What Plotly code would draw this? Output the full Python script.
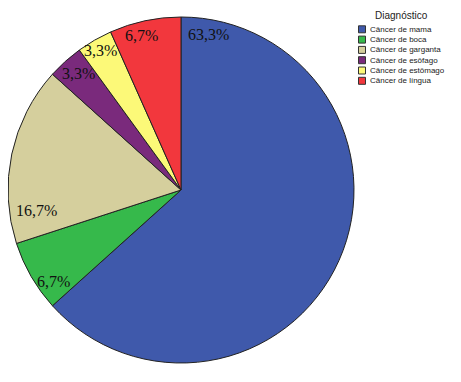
import math
import plotly.graph_objects as go

W, H = 461, 382
OFF = 8  # page body margin offset in the screenshot

categories = ["Câncer de mama", "Câncer de boca", "Câncer de garganta",
              "Câncer de esôfago", "Câncer de estômago", "Câncer de língua"]
counts = [19, 2, 5, 1, 1, 2]
colors = ["#3F59AB", "#36B94B", "#D5CF9D", "#7A2A7C", "#FCF978", "#F2373D"]
legend_title = "Diagnóstico"

# label placement style: fraction along slice and fraction of radius
label_angle_frac = [0.044, 0.26, 0.163, 0.55, 0.5, 0.40]
label_radius_frac = [0.90, 0.893, 0.828, 0.879, 0.918, 0.909]

# pie geometry in page pixels
cx, cy = 181, 190
R_draw = cx - OFF   # largest radius that fits from the figure's left edge
R_lab = 176


def px2x(px):
    return (px - OFF) / W


def py2y(py):
    return 1 - (py - OFF) / H


fig = go.Figure(go.Pie(
    labels=categories, values=counts, sort=False, direction="clockwise",
    rotation=0, marker=dict(colors=colors, line=dict(color="#222222", width=1)),
    textinfo="none", hoverinfo="label+percent", showlegend=False,
    domain=dict(x=[max(0, px2x(cx - R_draw)), px2x(cx + R_draw)],
                y=[py2y(cy + R_draw), py2y(cy - R_draw)]),
))

total = sum(counts)
ann = []
start = 0.0
for i, v in enumerate(counts):
    span = 360.0 * v / total
    th = math.radians(start + label_angle_frac[i] * span)
    r = R_lab * label_radius_frac[i]
    px = cx + r * math.sin(th)
    py = cy - r * math.cos(th)
    pct = f"{100 * v / total:.1f}".replace(".", ",") + "%"
    ann.append(dict(x=px2x(px), y=py2y(py), xref="paper", yref="paper", text=pct,
                    showarrow=False, xanchor="center", yanchor="middle",
                    font=dict(family="Liberation Serif, Times New Roman, serif", size=16, color="#111111")))
    start += span

# manual legend
shapes = []
ann.append(dict(x=px2x(401), y=py2y(15), xref="paper", yref="paper", text=legend_title,
                showarrow=False, xanchor="center", yanchor="middle",
                font=dict(family="Liberation Sans, Arial, sans-serif", size=10, color="#222222")))
y0 = 29.3
step = 10.3
for i, c in enumerate(categories):
    yc = y0 + i * step
    shapes.append(dict(type="rect", xref="paper", yref="paper",
                       x0=px2x(358.5), x1=px2x(365.5), y0=py2y(yc + 3.5), y1=py2y(yc - 3.5),
                       fillcolor=colors[i], line=dict(color="#333333", width=1)))
    ann.append(dict(x=px2x(367.5), y=py2y(yc), xref="paper", yref="paper", text=c,
                    showarrow=False, xanchor="left", yanchor="middle",
                    font=dict(family="Liberation Sans, Arial, sans-serif", size=8, color="#222222")))

fig.update_layout(width=W, height=H, margin=dict(l=0, r=0, t=0, b=0),
                  paper_bgcolor="white", plot_bgcolor="white",
                  annotations=ann, shapes=shapes)

fig.write_html("out.html")
